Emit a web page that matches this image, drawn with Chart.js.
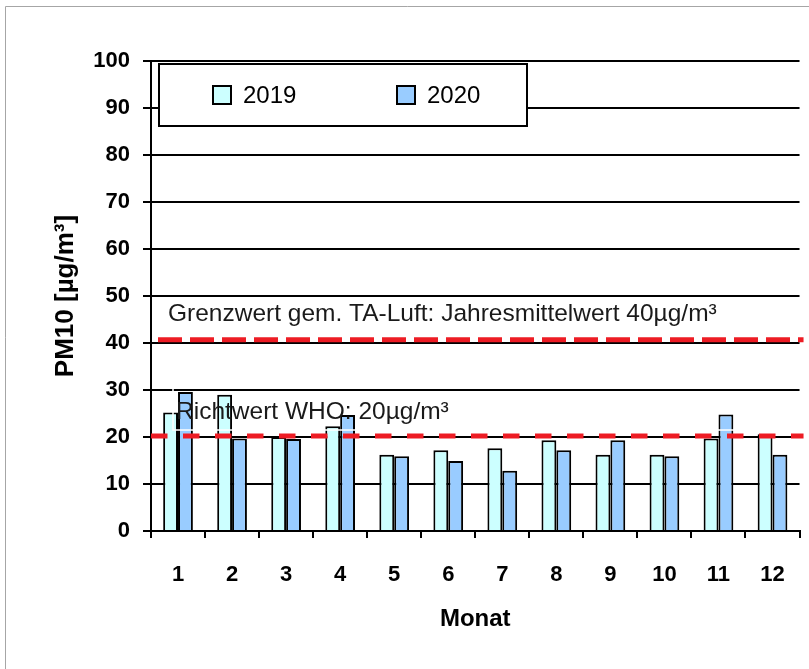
<!DOCTYPE html>
<html><head><meta charset="utf-8">
<script src="https://cdn.jsdelivr.net/npm/chart.js@4"></script>
<style>html,body{margin:0;padding:0;background:#fff}#wrap{width:809px;height:669px}</style>
</head><body><div id="wrap"><canvas id="c" width="809" height="669"></canvas></div>
<script>
const months = ['1','2','3','4','5','6','7','8','9','10','11','12'];
const pm2019 = [25.2, 29.0, 20.0, 22.3, 16.2, 17.2, 17.6, 19.3, 16.2, 16.2, 19.7, 20.6];
const pm2020 = [29.6, 19.7, 19.6, 24.7, 15.9, 14.9, 12.8, 17.2, 19.3, 15.9, 24.8, 16.2];
const seriesLabels = ['2019', '2020'];
const seriesColors = ['#CCFFFF', '#99CCFF'];
const yMin = 0, yMax = 100, yStep = 10;
const limitValues = [40.7, 20.2];
const limitLabels = ['Grenzwert gem. TA-Luft: Jahresmittelwert 40µg/m³', 'Richtwert WHO: 20µg/m³'];
const yTitle = 'PM10 [µg/m³]';
const xTitle = 'Monat';

const FONT = "'Liberation Sans', Arial, sans-serif";

const decor = {
  id: 'decor',
  beforeDraw(chart) {
    const ctx = chart.ctx;
    ctx.save();
    ctx.fillStyle = '#fff';
    ctx.fillRect(0, 0, chart.width, chart.height);
    ctx.strokeStyle = '#a6a6a6';
    ctx.lineWidth = 1;
    ctx.beginPath();
    ctx.moveTo(5.5, chart.height);
    ctx.lineTo(5.5, 6.5);
    ctx.lineTo(chart.width, 6.5);
    ctx.stroke();
    ctx.restore();
  },
  afterDatasetsDraw(chart) {
    const ctx = chart.ctx;
    const y = chart.scales.y;
    const ca = chart.chartArea;
    ctx.save();
    // WHO text box outline (white)
    ctx.strokeStyle = '#fff';
    ctx.lineWidth = 1.5;
    ctx.strokeRect(ca.left + 22, 386, 634, 44);
    // red dashed limit lines
    const dashes = [[24, 8], [16.5, 15.5]];
    const starts = [ca.left + 7, ca.left];
    ctx.strokeStyle = '#ED1C24';
    ctx.lineWidth = 5;
    ctx.lineCap = 'butt';
    limitValues.forEach((v, i) => {
      const py = y.getPixelForValue(v);
      ctx.setLineDash(dashes[i]);
      ctx.beginPath();
      ctx.moveTo(starts[i], py);
      ctx.lineTo(ca.right + 4, py);
      ctx.stroke();
    });
    ctx.setLineDash([]);
    // labels
    ctx.fillStyle = '#1a1a1a';
    ctx.font = '24.5px ' + FONT;
    ctx.textBaseline = 'alphabetic';
    ctx.textAlign = 'left';
    const lx = [ca.left + 17, ca.left + 25];
    const ly = [19, 17];
    limitValues.forEach((v, i) => {
      ctx.fillText(limitLabels[i], lx[i], y.getPixelForValue(v) - ly[i]);
    });
    // legend box
    ctx.fillStyle = '#fff';
    ctx.fillRect(159, 64, 368, 62);
    ctx.strokeStyle = '#000';
    ctx.lineWidth = 2;
    ctx.strokeRect(159, 64, 368, 62);
    const sx = [213, 397];
    chart.data.datasets.forEach((ds, i) => {
      ctx.fillStyle = ds.backgroundColor;
      ctx.fillRect(sx[i], 86, 18, 18);
      ctx.strokeStyle = '#000';
      ctx.lineWidth = 2;
      ctx.strokeRect(sx[i], 86, 18, 18);
      ctx.fillStyle = '#000';
      ctx.font = '24px ' + FONT;
      ctx.textBaseline = 'middle';
      ctx.fillText(ds.label, sx[i] + 30, 96);
    });
    ctx.restore();
  }
};

new Chart(document.getElementById('c'), {
  type: 'bar',
  data: {
    labels: months,
    datasets: [
      { label: seriesLabels[0], data: pm2019, backgroundColor: seriesColors[0], borderColor: '#000', borderWidth: 2 },
      { label: seriesLabels[1], data: pm2020, backgroundColor: seriesColors[1], borderColor: '#000', borderWidth: 2 }
    ]
  },
  options: {
    responsive: false,
    animation: false,
    devicePixelRatio: 1,
    categoryPercentage: 0.55,
    barPercentage: 1,
    layout: { padding: { left: 0, top: 61, right: 6, bottom: 0 } },
    plugins: { legend: { display: false }, tooltip: { enabled: false } },
    scales: {
      x: {
        grid: { display: true, drawOnChartArea: false, drawTicks: true, tickLength: 7, color: '#000', lineWidth: 2, offset: true },
        border: { display: true, color: '#000', width: 2 },
        ticks: { color: '#000', padding: 24, font: { family: FONT, size: 22, weight: 'bold' } },
        title: { display: true, text: xTitle, color: '#000', font: { family: FONT, size: 24, weight: 'bold' }, padding: { top: 0, bottom: 35 } },
        afterFit(s) { s.height = 138; }
      },
      y: {
        min: yMin, max: yMax,
        ticks: { stepSize: yStep, color: '#000', padding: 13, font: { family: FONT, size: 22, weight: 'bold' } },
        grid: { color: '#000', lineWidth: 2, tickLength: 8 },
        border: { display: true, color: '#000', width: 2 },
        title: { display: true, text: yTitle, color: '#000', font: { family: FONT, size: 26, weight: 'bold' }, padding: { top: 50, bottom: 0 } },
        afterFit(s) { s.width = 151; }
      }
    }
  },
  plugins: [decor]
});
</script>
</body></html>
